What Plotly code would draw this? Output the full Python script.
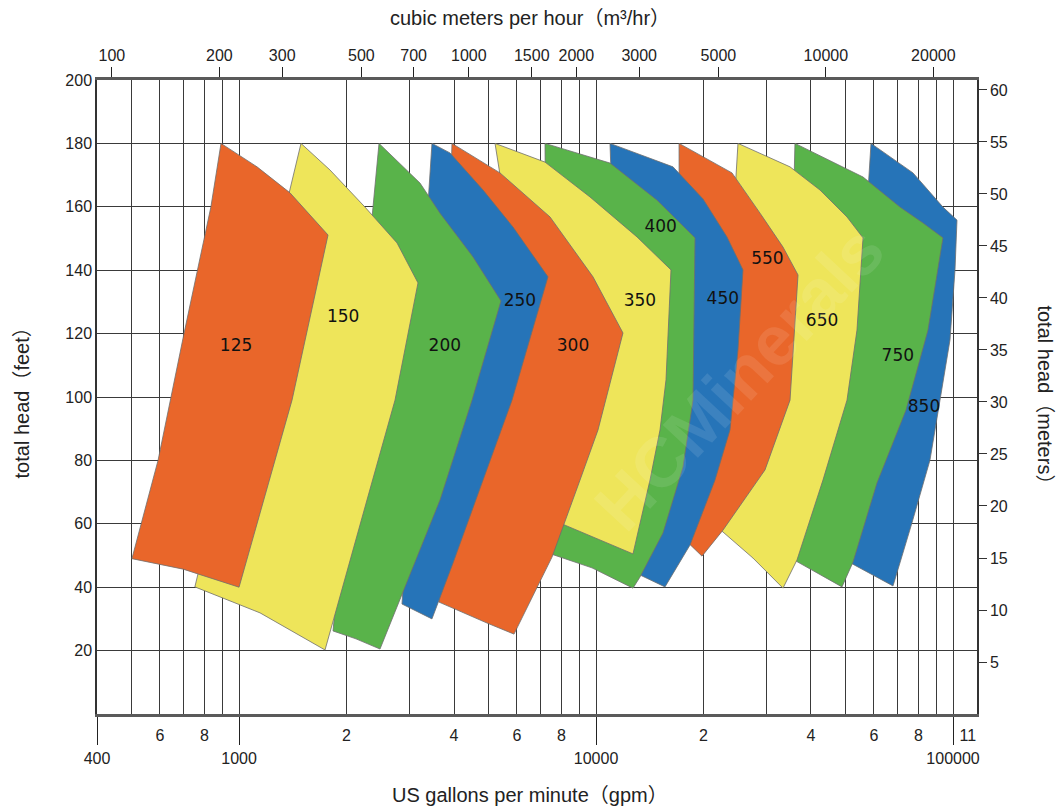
import math
import plotly.graph_objects as go

# ---------------- data ----------------
GPM_PER_M3H = 4.402868      # 1 m3/h in US gpm
FT_PER_M = 3.28084

x_min_gpm, x_max_gpm = 400, 116700
y_min_ft, y_max_ft = 0, 200

# bottom axis
major_ticks = [400, 1000, 10000, 100000]
major_labels = ["400", "1000", "10000", "100000"]
minor_label_vals = [600, 800, 2000, 4000, 6000, 8000, 20000, 40000, 60000, 80000, 110000]
minor_labels = ["6", "8", "2", "4", "6", "8", "2", "4", "6", "8", "11"]
minor_grid = [500, 600, 700, 800, 900, 2000, 3000, 4000, 5000, 6000, 7000, 8000, 9000,
              20000, 30000, 40000, 50000, 60000, 70000, 80000, 90000]

# top axis (m3/hr)
top_ticks = [100, 200, 300, 500, 700, 1000, 1500, 2000, 3000, 5000, 10000, 20000]

# left axis (feet) / right axis (meters)
ft_ticks = [20, 40, 60, 80, 100, 120, 140, 160, 180, 200]
m_ticks = [5, 10, 15, 20, 25, 30, 35, 40, 45, 50, 55, 60]

# pump model regions: outline points (gpm, feet)
p125_gpm = [890, 1123, 1389, 1775, 1407, 1000, 697, 501, 593, 701, 834]
p125_ft = [180, 172.6, 164.4, 151.1, 99, 40, 45.7, 49, 80, 120, 160]

p150_gpm = [1491, 1798, 2253, 2770, 3171, 2734, 2282, 1741, 1145, 752]
p150_ft = [180, 171.6, 159.9, 148.6, 136, 99, 67.5, 20.2, 31.9, 40.1]

p200_gpm = [2466, 3212, 3655, 4522, 5416, 4493, 3655, 2482, 2126, 1833]
p200_ft = [180, 167.5, 158, 144.2, 130.3, 99, 67.5, 20.5, 23.7, 26.2]

p250_gpm = [3470, 3898, 4824, 5853, 7334, 5815, 4824, 3974, 3470, 2860]
p250_ft = [180, 177, 165.3, 153.6, 137.9, 99, 73.8, 47.6, 30, 34.7]

p300_gpm = [3948, 5381, 7430, 9804, 11896, 10125, 9016, 7527, 5891, 4950, 3631]
p300_ft = [180, 170.7, 156.8, 137.9, 120.2, 89.6, 73.8, 49.5, 25.2, 28.7, 35.3]

p350_gpm = [5212, 7194, 9617, 13020, 16214, 15700, 15105, 14161, 12690, 10257, 7673]
p350_ft = [180, 174.1, 163.1, 150.5, 140.1, 105.4, 89.6, 73.8, 50.5, 54.9, 60.9]

p400_gpm = [7194, 10940, 14816, 18931, 18688, 17519, 15399, 13274, 12690, 9742, 7334]
p400_ft = [180, 173.8, 162.1, 150.2, 99, 77.9, 57.1, 43.2, 39.7, 46.1, 50.8]

p450_gpm = [10940, 16425, 19933, 23266, 25795, 24975, 23720, 21535, 18330, 15601, 12050]
p450_ft = [180, 172.6, 162.5, 150.5, 140.1, 114.8, 89.6, 73.8, 53.3, 40.1, 46.1]

p550_gpm = [17078, 24030, 28790, 33390, 36790, 34940, 29730, 22673, 19805, 17188]
p550_ft = [180, 170.7, 158, 147.3, 138.5, 99, 77, 58, 49.8, 56.5]

p650_gpm = [24975, 34940, 42385, 50454, 55950, 53810, 50454, 43213, 36550, 33390, 27510, 21535]
p650_ft = [180, 172.6, 165.3, 156.8, 150.2, 121.1, 99, 73.8, 48.6, 39.7, 49.2, 59.6]

p750_gpm = [36070, 55950, 71030, 82390, 93700, 85080, 73830, 61230, 52440, 48850, 33820]
p750_ft = [180, 169.4, 159.9, 154.9, 150.2, 121.1, 95.9, 72.9, 47.9, 40.1, 50.2]

p850_gpm = [58900, 77220, 93700, 102570, 101260, 98040, 91920, 86170, 76720, 67890, 49810]
p850_ft = [180, 170.7, 159.9, 155.8, 140.1, 118, 99, 80.1, 60.3, 40.4, 48.6]

model_names = ["125", "150", "200", "250", "300", "350", "400", "450", "550", "650", "750", "850"]
label_gpm = [981, 1957, 3770, 6121, 8617, 13270, 15170, 22650, 30200, 42960, 70030, 82900]
label_ft = [115.8, 124.9, 115.8, 130, 115.8, 130, 153.3, 130.6, 143.2, 123.7, 112.6, 96.5]

# ---------------- styling ----------------
ORANGE = "#E9662A"
YELLOW = "#EEE55A"
GREEN = "#59B34A"
BLUE = "#2674B8"
region_colors = [ORANGE, YELLOW, GREEN, BLUE, ORANGE, YELLOW, GREEN, BLUE,
                 ORANGE, YELLOW, GREEN, BLUE]
regions = [(p125_gpm, p125_ft), (p150_gpm, p150_ft), (p200_gpm, p200_ft),
           (p250_gpm, p250_ft), (p300_gpm, p300_ft), (p350_gpm, p350_ft),
           (p400_gpm, p400_ft), (p450_gpm, p450_ft), (p550_gpm, p550_ft),
           (p650_gpm, p650_ft), (p750_gpm, p750_ft), (p850_gpm, p850_ft)]

FONT = "Liberation Sans, Arial, Noto Sans CJK SC, sans-serif"
GRID = "#3a3a3a"
TXT = "#222222"

fig = go.Figure()

# draw the largest model first so that smaller models sit on top
for (gx, fy), col, name in reversed(list(zip(regions, region_colors, model_names))):
    fig.add_trace(go.Scatter(
        x=gx + [gx[0]], y=fy + [fy[0]],
        mode="lines", fill="toself", fillcolor=col,
        line=dict(color="#6e6e6e", width=0.8),
        hoverinfo="text", text=name, showlegend=False,
    ))

fig.add_trace(go.Scatter(
    x=label_gpm, y=label_ft, mode="text", text=model_names,
    textfont=dict(family="DejaVu Sans, Liberation Sans, sans-serif", size=17, color="#111"),
    hoverinfo="skip", showlegend=False,
))

# invisible anchors so that the secondary axes are drawn
fig.add_trace(go.Scatter(x=[x_min_gpm], y=[y_min_ft], xaxis="x2", yaxis="y", mode="markers",
                         marker=dict(opacity=0), hoverinfo="skip", showlegend=False))
fig.add_trace(go.Scatter(x=[x_min_gpm / GPM_PER_M3H], y=[y_min_ft], xaxis="x3", yaxis="y",
                         mode="markers", marker=dict(opacity=0), hoverinfo="skip", showlegend=False))
fig.add_trace(go.Scatter(x=[x_min_gpm], y=[y_min_ft / FT_PER_M], xaxis="x", yaxis="y2",
                         mode="markers", marker=dict(opacity=0), hoverinfo="skip", showlegend=False))

x_range = [math.log10(x_min_gpm), math.log10(x_max_gpm)]
top_range = [math.log10(x_min_gpm / GPM_PER_M3H), math.log10(x_max_gpm / GPM_PER_M3H)]

fig.update_layout(
    width=1062, height=809,
    margin=dict(l=97, r=85, t=80, b=95),
    plot_bgcolor="white", paper_bgcolor="white",
    showlegend=False,
    font=dict(family=FONT, color=TXT, size=16),
    xaxis=dict(
        type="log", range=x_range,
        tickvals=major_ticks, ticktext=major_labels,
        ticks="outside", ticklen=28, tickwidth=1, tickcolor="#222",
        ticklabelstandoff=0,
        showgrid=True, gridcolor=GRID, gridwidth=1,
        minor=dict(tickvals=minor_grid, showgrid=True, gridcolor=GRID, gridwidth=1, ticks=""),
        showline=True, linecolor="#5a5a5a", linewidth=2.5,
        zeroline=False, tickfont=dict(size=16, color=TXT),
    ),
    xaxis2=dict(
        type="log", range=x_range, overlaying="x", side="bottom", anchor="y",
        tickvals=minor_label_vals, ticktext=minor_labels,
        ticks="", ticklabelstandoff=10,
        showgrid=False, showline=False, zeroline=False,
        tickfont=dict(size=16, color=TXT),
    ),
    xaxis3=dict(
        type="log", range=top_range, overlaying="x", side="top", anchor="y",
        tickvals=top_ticks, ticktext=[str(v) for v in top_ticks],
        ticks="outside", ticklen=10, tickwidth=1, tickcolor="#222",
        showgrid=False, showline=True, linecolor="#5a5a5a", linewidth=2.5,
        zeroline=False, tickfont=dict(size=16, color=TXT),
    ),
    yaxis=dict(
        range=[y_min_ft, y_max_ft], tickvals=ft_ticks,
        ticks="", showgrid=True, gridcolor=GRID, gridwidth=1,
        showline=True, linecolor="#333", linewidth=1.5,
        zeroline=False, tickfont=dict(size=16, color=TXT),
    ),
    yaxis2=dict(
        range=[y_min_ft / FT_PER_M, y_max_ft / FT_PER_M], overlaying="y", side="right",
        anchor="x", tickvals=m_ticks,
        ticks="outside", ticklen=8, tickwidth=1, tickcolor="#333",
        showgrid=False, showline=True, linecolor="#333", linewidth=1.5,
        zeroline=False, tickfont=dict(size=16, color=TXT),
    ),
)

annotations = [
    dict(text="cubic meters per hour（m³/hr）", x=0.492, y=1.098, xref="paper", yref="paper",
         showarrow=False, font=dict(size=20, color=TXT, family=FONT), xanchor="center", yanchor="middle"),
    dict(text="US gallons per minute（gpm）", x=0.492, y=-0.128, xref="paper", yref="paper",
         showarrow=False, font=dict(size=20, color=TXT, family=FONT), xanchor="center", yanchor="middle"),
    dict(text="total head（feet）", x=-0.085, y=0.498, xref="paper", yref="paper", textangle=-90,
         showarrow=False, font=dict(size=20, color=TXT, family=FONT), xanchor="center", yanchor="middle"),
    dict(text="total head（meters）", x=1.077, y=0.495, xref="paper", yref="paper", textangle=90,
         showarrow=False, font=dict(size=20, color=TXT, family=FONT), xanchor="center", yanchor="middle"),
    dict(text="<b>HCMinerals</b>", x=0.73, y=0.53, xref="paper", yref="paper", textangle=-47,
         showarrow=False, font=dict(size=70, color="rgba(255,255,255,0.10)", family=FONT),
         xanchor="center", yanchor="middle"),
]
fig.update_layout(annotations=annotations)

fig.write_html("out.html", config={"displayModeBar": False},
               post_script="document.body.style.margin='0px';")
